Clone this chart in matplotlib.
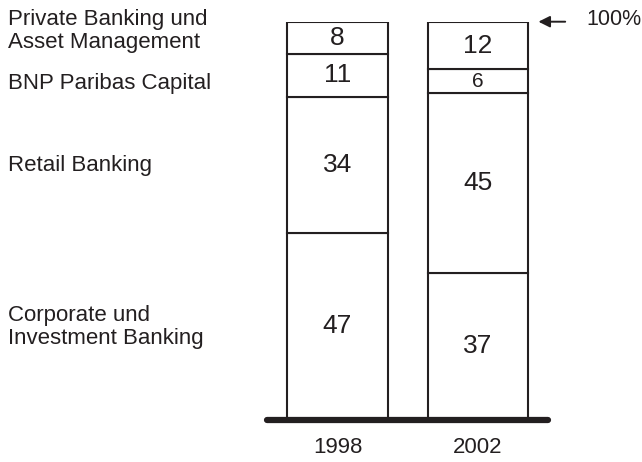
import numpy as np
import matplotlib.pyplot as plt

plt.rcParams['font.family'] = ['Liberation Sans', 'DejaVu Sans']

# data (percent shares, bottom to top)
years = ["1998", "2002"]
segments = ["Corporate und\nInvestment Banking", "Retail Banking",
            "BNP Paribas Capital", "Private Banking und\nAsset Management"]
values_1998 = [47, 34, 11, 8]
values_2002 = [37, 45, 6, 12]

ink = "#231f20"
W, H = 642, 462

fig = plt.figure(figsize=(W / 100, H / 100), dpi=100)
# axes placed in pixel terms of the reference
ax_l, ax_r, ax_b, ax_t = 265, 550, 420, 21.7
ax = fig.add_axes([ax_l / W, 1 - ax_b / H, (ax_r - ax_l) / W, (ax_b - ax_t) / H])
ax.set_xlim(-0.516, 1.512)
ax.set_ylim(0, 100)
ax.axis("off")

x = np.arange(len(years))
data = np.array([values_1998, values_2002]).T
bottom = np.zeros(len(years))
for i, row in enumerate(data):
    ax.bar(x, row, bottom=bottom, width=0.715, color="white",
           edgecolor=ink, linewidth=1.5, zorder=2)
    for xi, b, v in zip(x, bottom, row):
        fs = 15 if v < 8 else 19
        ax.text(xi, b + v / 2, str(v), ha="center", va="center",
                fontsize=fs, color=ink, zorder=3)
    bottom += row

# thick baseline
ax.plot([-0.5, 1.495], [0, 0], color=ink, lw=4.5,
        solid_capstyle="round", clip_on=False, zorder=4)

# year labels
for xi, yr in zip(x, years):
    ax.text(xi, -7, yr, ha="center", va="center", fontsize=16,
            color=ink, clip_on=False)

# 100% marker
ax.annotate("", xy=(1.41, 100), xytext=(1.64, 100),
            arrowprops=dict(arrowstyle="-|>", color=ink, lw=1.4,
                            mutation_scale=17), annotation_clip=False)
ax.text(1.77, 100.5, "100%", ha="left", va="center", fontsize=15.5,
        color=ink, clip_on=False)

# segment labels on the left (pixel centers)
label_y = [327, 166, 84, 31]
for lab, yp in zip(segments, label_y):
    fig.text(8 / W, 1 - yp / H, lab, ha="left", va="center",
             fontsize=16, color=ink, linespacing=1.08)

fig.savefig("out.png", dpi=100)
